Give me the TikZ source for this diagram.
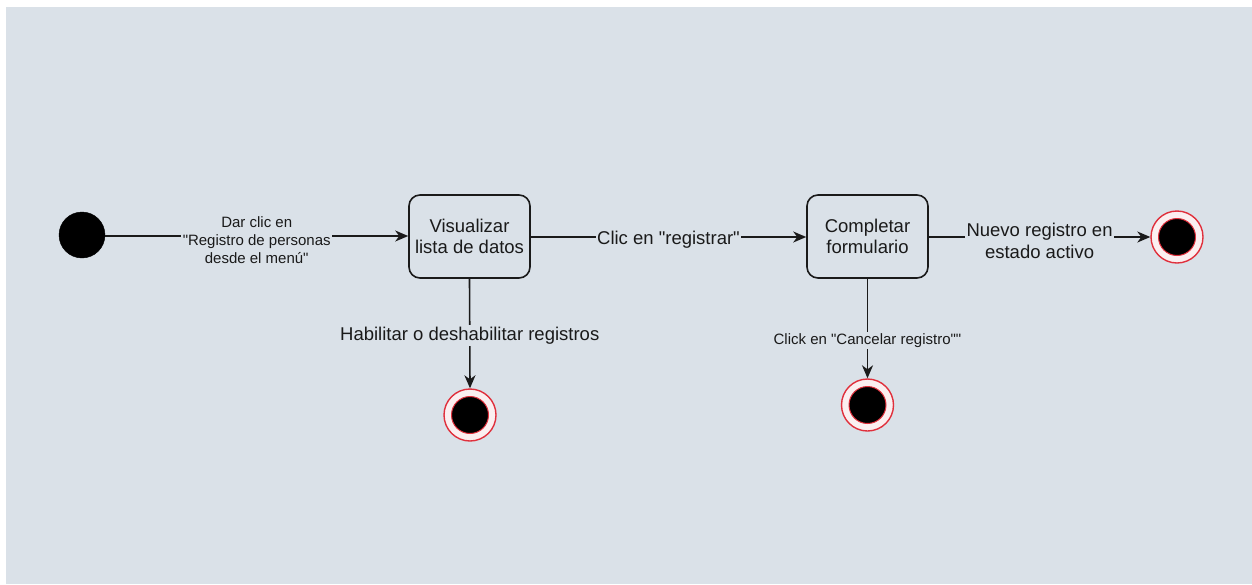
\documentclass[tikz,border=0pt]{standalone}
\usepackage{fontspec}
\setmainfont{Liberation Sans}[Ligatures=TeXOff]
\usetikzlibrary{arrows.meta}
\definecolor{canvas}{HTML}{DAE1E8}
\definecolor{ink}{HTML}{1A1A1A}
\definecolor{endred}{HTML}{E0303C}
\definecolor{ringfill}{HTML}{FBEFF0}
\begin{document}
\begin{tikzpicture}[x=1pt,y=-1pt,
  bigtext/.style={font=\fontsize{18.5}{21.5}\selectfont, text=ink},
  smalltext/.style={font=\fontsize{15}{18}\selectfont, text=ink},
  startstate/.style={circle, fill=black, draw=black, minimum size=46pt, inner sep=0pt},
  endstate/.style={circle, fill=ringfill, draw=endred, line width=1.4pt, minimum size=52pt, inner sep=0pt,
    path picture={\fill[black, draw=endred, line width=1pt] (path picture bounding box.center) circle (18.5pt);}},
  activity/.style={rectangle, rounded corners=11pt, draw=ink, line width=1.6pt, fill=canvas,
    minimum width=121pt, minimum height=83pt, align=center, bigtext},
  flow/.style={draw=ink, line width=1.6pt, -{Stealth[length=13pt,width=11pt,inset=4pt]}},
  edgelabel/.style={fill=canvas, inner sep=1.5pt, align=center}
]
\useasboundingbox (0,0) rectangle (1252,584);
\fill[white] (0,0) rectangle (1252,584);
\fill[canvas] (6,7) rectangle (1252,584);

% states and activities
\node[startstate] (start) at (82,235) {};
\node[activity] (view) at (469.5,236.5) {Visualizar\\lista de datos};
\node[activity] (form) at (867.5,236.5) {Completar\\formulario};
\node[endstate] (endnew) at (1177,237) {};
\node[endstate] (endtoggle) at (470,415) {};
\node[endstate] (endcancel) at (867.5,405) {};

% transitions
\draw[flow] (start.east |- 0,236) -- (view.west |- 0,236)
  node[midway, edgelabel, smalltext, yshift=-4pt] {Dar clic en\\"Registro de personas\\desde el menú"};
\draw[flow] (view.east |- 0,237) -- (form.west |- 0,237)
  node[midway, edgelabel, bigtext, yshift=-3pt] {Clic en "registrar"};
\draw[flow] (form.east |- 0,237) -- (endnew.west)
  node[midway, edgelabel, bigtext, yshift=-4pt] {Nuevo registro en\\estado activo};
\draw[flow] (view.south) -- (endtoggle.north)
  node[midway, edgelabel, bigtext, yshift=-2pt] {Habilitar o deshabilitar registros};
\draw[flow] (form.south) -- (endcancel.north)
  node[pos=0.62, edgelabel, smalltext] {Click en "Cancelar registro""};
\end{tikzpicture}
\end{document}
